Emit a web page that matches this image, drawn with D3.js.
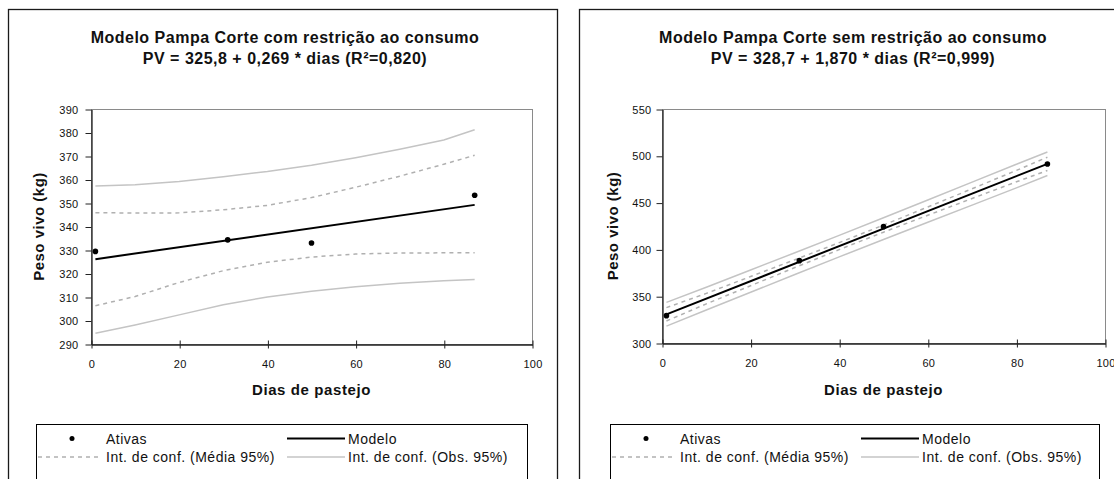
<!DOCTYPE html>
<html>
<head>
<meta charset="utf-8">
<script src="https://cdn.jsdelivr.net/npm/d3@7"></script>
<style>
  body { margin: 0; background: #fff; }
  svg { display: block; font-family: "Liberation Sans", Arial, sans-serif; }
</style>
</head>
<body>
<div id="vis"></div>
<script>
// data
const xTicks = [0, 20, 40, 60, 80, 100];
const diasAtivas = [1, 31, 50, 87];
const diasModelo = [1, 87];
const diasCurva = [1, 10, 20, 30, 40, 50, 60, 70, 80, 87];

// com restrição
const comTicks = [290, 300, 310, 320, 330, 340, 350, 360, 370, 380, 390];
const comAtivas = [329.4, 334.3, 333.0, 353.3];
const comModelo = [326.1, 349.2];
const comObsSup = [357.2, 357.8, 359.2, 361.2, 363.4, 366.1, 369.3, 372.9, 376.8, 381.2];
const comMedSup = [345.9, 345.7, 345.8, 347.1, 349.0, 352.3, 356.7, 361.4, 366.5, 370.3];
const comMedInf = [306.3, 310.2, 316.2, 321.2, 324.8, 327.0, 328.3, 328.7, 328.8, 328.8];
const comObsInf = [294.6, 298.1, 302.4, 306.7, 310.0, 312.4, 314.4, 315.9, 316.9, 317.4];

// sem restrição
const semTicks = [300, 350, 400, 450, 500, 550];
const semAtivas = [329.2, 388.0, 424.3, 491.2];
const semModelo = [330.6, 491.4];
const semObsSup = [343.4, 359.6, 378.0, 396.4, 415.0, 433.8, 452.8, 471.9, 490.9, 504.0];
const semMedSup = [337.8, 353.0, 371.0, 389.0, 407.2, 426.0, 445.3, 464.8, 484.4, 498.5];
const semMedInf = [323.5, 341.8, 361.2, 380.6, 399.8, 418.4, 436.5, 454.4, 472.2, 484.3];
const semObsInf = [318.0, 335.2, 354.2, 373.2, 392.0, 410.6, 429.0, 447.3, 465.7, 479.0];

const legendLabels = ["Ativas", "Modelo", "Int. de conf. (Média 95%)", "Int. de conf. (Obs. 95%)"];

const svg = d3.select("#vis")
  .append("svg")
  .attr("width", 1114)
  .attr("height", 479);

function drawPanel(p) {
  // outer frame
  svg.append("rect")
    .attr("x", p.left + 0.5).attr("y", 9.5)
    .attr("width", p.width).attr("height", 500)
    .attr("fill", "none").attr("stroke", "#1a1a1a").attr("stroke-width", 1.3);

  // titles
  svg.append("text")
    .attr("x", p.titleX).attr("y", 42.5)
    .attr("text-anchor", "middle")
    .style("font-size", "16px").style("font-weight", "bold").style("letter-spacing", "0.5px")
    .attr("fill", "#111")
    .text(p.title1);
  svg.append("text")
    .attr("x", p.titleX).attr("y", 64)
    .attr("text-anchor", "middle")
    .style("font-size", "16px").style("font-weight", "bold").style("letter-spacing", "0.5px")
    .attr("fill", "#111")
    .text(p.title2);

  const x = d3.scaleLinear().domain([0, 100]).range([p.x0, p.x1]);
  const y = d3.scaleLinear().domain(p.yDomain).range([p.y1, p.y0]);

  // plot area border
  svg.append("rect")
    .attr("x", p.x0 + 0.5).attr("y", p.y0 + 0.5)
    .attr("width", p.x1 - p.x0).attr("height", p.y1 - p.y0)
    .attr("fill", "#fff").attr("stroke", "#8a8a8a");

  // y axis
  const ya = svg.append("g")
    .attr("transform", `translate(${p.x0 + 0.5}, 0.5)`)
    .call(d3.axisLeft(y).tickValues(p.yTicks).tickSize(6).tickSizeOuter(0).tickPadding(p.yPad));
  ya.select(".domain").attr("stroke", "#222").attr("stroke-width", 1.3);
  ya.selectAll(".tick line").attr("stroke", "#222");
  ya.selectAll("text").style("font-size", "11px").style("letter-spacing", "0.3px").attr("fill", "#111");

  // x axis, ticks crossing the line
  const xa = svg.append("g")
    .attr("transform", `translate(0.5, ${p.y1 + 0.5})`)
    .call(d3.axisBottom(x).tickValues(xTicks).tickSize(4).tickSizeOuter(0).tickPadding(12));
  xa.select(".domain").attr("stroke", "#222").attr("stroke-width", 1.3);
  xa.selectAll(".tick line").attr("y1", -4).attr("y2", 4).attr("stroke", "#222");
  xa.selectAll("text").style("font-size", "11px").style("letter-spacing", "0.3px").attr("fill", "#111");

  // axis titles
  svg.append("text")
    .attr("x", (p.x0 + p.x1) / 2).attr("y", 395)
    .attr("text-anchor", "middle")
    .style("font-size", "15px").style("font-weight", "bold").style("letter-spacing", "0.6px")
    .attr("fill", "#111")
    .text("Dias de pastejo");
  svg.append("text")
    .attr("transform", `translate(${p.yLabelX}, ${(p.y0 + p.y1) / 2}) rotate(-90)`)
    .attr("text-anchor", "middle")
    .attr("dy", "0.35em")
    .style("font-size", "15px").style("font-weight", "bold").style("letter-spacing", "0.5px")
    .attr("fill", "#111")
    .text("Peso vivo (kg)");

  const line = d3.line().x(d => x(d[0])).y(d => y(d[1]));

  // confidence bands
  [p.obsSup, p.obsInf].forEach(arr => {
    svg.append("path")
      .datum(d3.zip(diasCurva, arr))
      .attr("d", line)
      .attr("fill", "none").attr("stroke", "#c4c4c4").attr("stroke-width", 1.5);
  });
  [p.medSup, p.medInf].forEach(arr => {
    svg.append("path")
      .datum(d3.zip(diasCurva, arr))
      .attr("d", line)
      .attr("fill", "none").attr("stroke", "#b0b0b0").attr("stroke-width", 1.5)
      .attr("stroke-dasharray", "4,4");
  });

  // model
  svg.append("path")
    .datum(d3.zip(diasModelo, p.modelo))
    .attr("d", line)
    .attr("fill", "none").attr("stroke", "#000").attr("stroke-width", 2);

  // observed points
  svg.selectAll(null)
    .data(d3.zip(diasAtivas, p.ativas))
    .enter()
    .append("circle")
    .attr("cx", d => x(d[0]))
    .attr("cy", d => y(d[1]))
    .attr("r", 2.8)
    .attr("fill", "#000");

  // legend
  const lx = p.legX;
  svg.append("rect")
    .attr("x", lx + 0.5).attr("y", 424.5)
    .attr("width", p.legW).attr("height", 80)
    .attr("fill", "#fff").attr("stroke", "#000");

  const row1 = 438.5, row2 = 457;
  svg.append("circle").attr("cx", lx + 36).attr("cy", row1).attr("r", 2.5).attr("fill", "#000");
  svg.append("line")
    .attr("x1", lx + 251).attr("x2", lx + 309).attr("y1", row1).attr("y2", row1)
    .attr("stroke", "#000").attr("stroke-width", 2);
  svg.append("line")
    .attr("x1", lx + 2).attr("x2", lx + 62).attr("y1", row2).attr("y2", row2)
    .attr("stroke", "#b0b0b0").attr("stroke-width", 1.5).attr("stroke-dasharray", "4,4");
  svg.append("line")
    .attr("x1", lx + 251).attr("x2", lx + 309).attr("y1", row2).attr("y2", row2)
    .attr("stroke", "#c4c4c4").attr("stroke-width", 1.5);

  const textPos = [[lx + 70, row1], [lx + 312, row1], [lx + 70, row2], [lx + 312, row2]];
  legendLabels.forEach((t, i) => {
    svg.append("text")
      .attr("x", textPos[i][0]).attr("y", textPos[i][1] + 5)
      .style("font-size", "14px").style("letter-spacing", "0.5px")
      .attr("fill", "#111")
      .text(t);
  });
}

drawPanel({
  left: 8, width: 549,
  title1: "Modelo Pampa Corte com restrição ao consumo",
  title2: "PV = 325,8 + 0,269 * dias (R²=0,820)",
  titleX: 285,
  x0: 91, x1: 532, y0: 109, y1: 344,
  yDomain: [290, 390], yTicks: comTicks, yPad: 7, yLabelX: 39,
  ativas: comAtivas, modelo: comModelo,
  obsSup: comObsSup, obsInf: comObsInf, medSup: comMedSup, medInf: comMedInf,
  legX: 36, legW: 491
});

drawPanel({
  left: 579, width: 560,
  title1: "Modelo Pampa Corte sem restrição ao consumo",
  title2: "PV = 328,7 + 1,870 * dias (R²=0,999)",
  titleX: 853,
  x0: 662, x1: 1105, y0: 109, y1: 343,
  yDomain: [300, 550], yTicks: semTicks, yPad: 5, yLabelX: 613,
  ativas: semAtivas, modelo: semModelo,
  obsSup: semObsSup, obsInf: semObsInf, medSup: semMedSup, medInf: semMedInf,
  legX: 610, legW: 489
});
</script>
</body>
</html>
